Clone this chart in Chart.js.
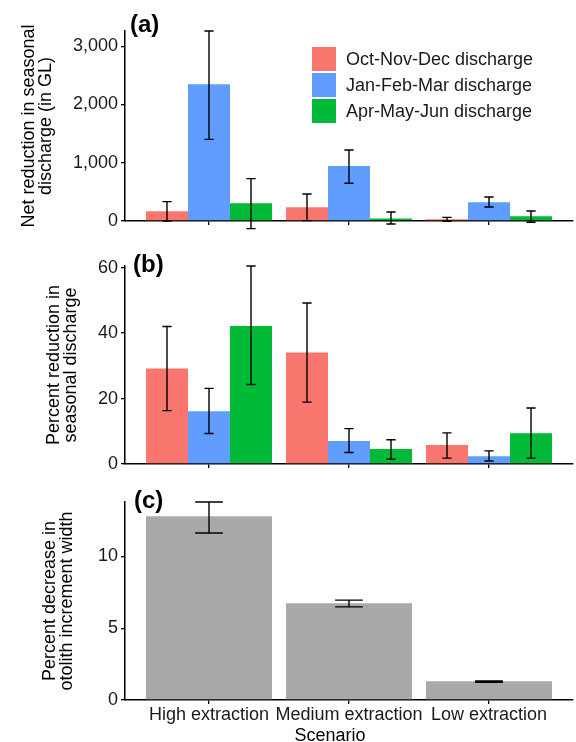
<!DOCTYPE html>
<html>
<head>
<meta charset="utf-8">
<script src="https://cdn.jsdelivr.net/npm/chart.js@4.4.0/dist/chart.umd.min.js"></script>
<style>
  html, body { margin: 0; padding: 0; background: #fff; overflow: hidden; }
  #wrap { position: relative; width: 576px; height: 742px; overflow: hidden; }
  canvas { position: absolute; left: 0; }
</style>
</head>
<body>
<div id="wrap">
  <canvas id="panelA" width="576" height="240" style="top:0px"></canvas>
  <canvas id="panelB" width="576" height="240" style="top:240px"></canvas>
  <canvas id="panelC" width="576" height="272" style="top:480px"></canvas>
</div>
<script>
// categories
var scenarios = ['High extraction', 'Medium extraction', 'Low extraction'];
var seasons = ['Oct-Nov-Dec discharge', 'Jan-Feb-Mar discharge', 'Apr-May-Jun discharge'];
var seasonColors = ['#F8766D', '#619CFF', '#00BA38'];

// (a) net reduction in seasonal discharge (GL), mean + error bar ends
var netOND = [166, 235, 29];
var netJFM = [2345, 943, 321];
var netAMJ = [304, 41, 81];
var netONDLow = [0, 7, -5];
var netJFMLow = [1401, 647, 240];
var netAMJLow = [-130, -51, -22];
var netONDHigh = [333, 463, 63];
var netJFMHigh = [3259, 1218, 412];
var netAMJHigh = [727, 154, 172];
var netTicks = [0, 1000, 2000, 3000];

// (b) percent reduction in seasonal discharge
var pctOND = [29.2, 34.1, 5.8];
var pctJFM = [16.1, 7.0, 2.4];
var pctAMJ = [42.2, 4.6, 9.4];
var pctONDLow = [16.3, 18.9, 1.8];
var pctJFMLow = [9.3, 3.5, 0.9];
var pctAMJLow = [24.3, 1.5, 1.8];
var pctONDHigh = [42.0, 49.2, 9.5];
var pctJFMHigh = [23.1, 10.8, 4.0];
var pctAMJHigh = [60.5, 7.4, 17.1];
var pctTicks = [0, 20, 40, 60];

// (c) percent decrease in otolith increment width
var otolith = [12.8, 6.75, 1.3];
var otolithLow = [11.64, 6.49, 1.23];
var otolithHigh = [13.8, 6.96, 1.32];
var otolithTicks = [0, 5, 10];

var FONT = "'Liberation Sans', Arial, Helvetica, sans-serif";
Chart.defaults.font.family = FONT;
Chart.defaults.font.size = 18;
Chart.defaults.color = '#1a1a1a';

// dibuja las barras de error (media +/- intervalo)
var errorBars = {
  id: 'errorBars',
  afterDatasetsDraw: function (chart) {
    var ctx = chart.ctx;
    var yScale = chart.scales.y;
    ctx.save();
    ctx.strokeStyle = '#000';
    ctx.lineWidth = 1.4;
    chart.data.datasets.forEach(function (ds, i) {
      if (!ds.errLow) return;
      chart.getDatasetMeta(i).data.forEach(function (bar, j) {
        var p = bar.getProps(['x', 'width'], true);
        var half = p.width * 0.11;
        var yLo = yScale.getPixelForValue(ds.errLow[j]);
        var yHi = yScale.getPixelForValue(ds.errHigh[j]);
        ctx.beginPath();
        ctx.moveTo(p.x, yLo); ctx.lineTo(p.x, yHi);
        ctx.moveTo(p.x - half, yLo); ctx.lineTo(p.x + half, yLo);
        ctx.moveTo(p.x - half, yHi); ctx.lineTo(p.x + half, yHi);
        ctx.stroke();
      });
    });
    ctx.restore();
  }
};

// etiquetas sueltas: (a), (b), (c) y el título "Scenario"
var captions = {
  id: 'captions',
  afterDraw: function (chart, args, opts) {
    var ctx = chart.ctx;
    (opts.items || []).forEach(function (it) {
      ctx.save();
      ctx.font = it.font;
      ctx.fillStyle = it.color || '#000';
      ctx.textAlign = it.align || 'left';
      ctx.textBaseline = 'alphabetic';
      ctx.fillText(it.text, it.x, it.y);
      ctx.restore();
    });
  }
};

// leyenda dentro del panel (a)
var boxLegend = {
  id: 'boxLegend',
  afterDraw: function (chart, args, opts) {
    if (!opts.show) return;
    var ctx = chart.ctx;
    ctx.save();
    ctx.font = '18px ' + FONT;
    ctx.textBaseline = 'middle';
    chart.data.datasets.forEach(function (ds, i) {
      var top = opts.y + i * opts.pitch;
      ctx.fillStyle = ds.backgroundColor;
      ctx.fillRect(opts.x, top, opts.box, opts.box);
      ctx.fillStyle = '#1a1a1a';
      ctx.fillText(ds.label, opts.x + opts.box + opts.gap, top + opts.box / 2 + 1);
    });
    ctx.restore();
  }
};

function barSet(label, color, values, lows, highs) {
  return {
    label: label,
    data: values.map(function (v, i) { return { x: i + 1, y: v }; }),
    errLow: lows,
    errHigh: highs,
    backgroundColor: color,
    borderWidth: 0,
    categoryPercentage: 0.9,
    barPercentage: 1
  };
}

function makePanel(id, cfg) {
  return new Chart(document.getElementById(id), {
    type: 'bar',
    data: { datasets: cfg.datasets },
    plugins: [errorBars, captions, boxLegend],
    options: {
      responsive: false,
      animation: false,
      layout: { padding: { top: cfg.top, right: 3, left: 0, bottom: 0 } },
      plugins: {
        legend: { display: false },
        tooltip: { enabled: false },
        captions: { items: cfg.captions },
        boxLegend: cfg.legend || { show: false }
      },
      scales: {
        x: {
          type: 'linear', min: 0.4, max: 3.6, offset: false, bounds: 'data', z: 1,
          afterBuildTicks: function (s) {
            s.ticks = scenarios.map(function (_, i) { return { value: i + 1 }; });
          },
          afterFit: function (s) { s.height = cfg.xHeight; },
          grid: { drawOnChartArea: false, drawTicks: true, tickLength: 4, color: '#000', tickColor: '#000', lineWidth: 1.3, offset: false },
          border: { display: true, color: '#000', width: 1.5 },
          ticks: {
            padding: 0, maxRotation: 0, autoSkip: false,
            callback: function (v) { return cfg.showNames ? scenarios[v - 1] : ''; }
          }
        },
        y: {
          min: 0, max: cfg.yMax, bounds: 'data', z: 1,
          afterBuildTicks: function (s) {
            s.ticks = cfg.yTicks.map(function (v) { return { value: v }; });
          },
          afterFit: function (s) { s.width = 125; },
          grid: { drawOnChartArea: false, drawTicks: true, tickLength: 4, color: '#000', tickColor: '#000', lineWidth: 1.3 },
          border: { display: true, color: '#000', width: 1.5 },
          ticks: {
            padding: 3,
            callback: function (v) { return v.toLocaleString('en-US'); }
          },
          title: {
            display: true, text: cfg.yTitle, color: '#000',
            font: { size: 18, lineHeight: 0.93 },
            padding: { top: cfg.yTitlePad, bottom: 0 }
          }
        }
      }
    }
  });
}

var tagFont = 'bold 24px ' + FONT;

makePanel('panelA', {
  datasets: [
    barSet(seasons[0], seasonColors[0], netOND, netONDLow, netONDHigh),
    barSet(seasons[1], seasonColors[1], netJFM, netJFMLow, netJFMHigh),
    barSet(seasons[2], seasonColors[2], netAMJ, netAMJLow, netAMJHigh)
  ],
  top: 31, xHeight: 19, yMax: 3260, yTicks: netTicks,
  yTitle: ['Net reduction in seasonal', 'discharge (in GL)'], yTitlePad: 21,
  captions: [{ text: '(a)', x: 130, y: 32, font: tagFont }],
  legend: { show: true, x: 312, y: 47, box: 24, pitch: 26, gap: 10 }
});

makePanel('panelB', {
  datasets: [
    barSet(seasons[0], seasonColors[0], pctOND, pctONDLow, pctONDHigh),
    barSet(seasons[1], seasonColors[1], pctJFM, pctJFMLow, pctJFMHigh),
    barSet(seasons[2], seasonColors[2], pctAMJ, pctAMJLow, pctAMJHigh)
  ],
  top: 26, xHeight: 16, yMax: 60.5, yTicks: pctTicks,
  yTitle: ['Percent reduction in', 'seasonal discharge'], yTitlePad: 46,
  captions: [{ text: '(b)', x: 133, y: 32, font: tagFont }]
});

makePanel('panelC', {
  datasets: [
    barSet('Otolith increment width', '#A9A9A9', otolith, otolithLow, otolithHigh)
  ],
  top: 22, xHeight: 52, yMax: 13.8, yTicks: otolithTicks, showNames: true,
  yTitle: ['Percent decrease in', 'otolith increment width'], yTitlePad: 42,
  captions: [
    { text: '(c)', x: 134, y: 28, font: tagFont },
    { text: 'Scenario', x: 330, y: 261, font: '18px ' + FONT, align: 'center', color: '#000' }
  ]
});
</script>
</body>
</html>
